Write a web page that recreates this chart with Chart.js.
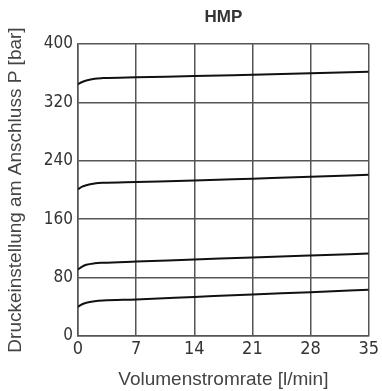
<!DOCTYPE html>
<html>
<head>
<meta charset="utf-8">
<script src="https://cdn.jsdelivr.net/npm/chart.js@4.4.1/dist/chart.umd.min.js"></script>
<style>
    html, body { margin: 0; padding: 0; background: #fff; }
    #wrap { width: 382px; height: 391px; }
</style>
</head>
<body>
<div id="wrap"><canvas id="hmpChart"></canvas></div>
<script>
// Flow rate sample points (l/min)
const flowRates = [0, 0.5, 1, 2, 3, 7, 14, 21, 28, 35];

// Pressure setting curves (bar), one per relief setting
const curve350 = [345, 348, 350, 352.5, 353.3, 354.5, 356, 358, 360, 362];
const curve200 = [201, 204.5, 206.5, 208.8, 209.8, 211, 213, 215.5, 218, 221];
const curve90 = [91, 95, 97.5, 99.5, 100.3, 102, 104.8, 107.7, 110.4, 113];
const curve40 = [40, 43.5, 45.5, 47.5, 48.5, 50, 53.5, 57, 60, 63.5];

const xTicks = [0, 7, 14, 21, 28, 35];
const yTicks = [0, 80, 160, 240, 320, 400];

const chartTitle = 'HMP';

const narrowFamily = "'Liberation Sans Narrow', 'DejaVu Sans Condensed', sans-serif";
const labelFont = { family: "'Liberation Sans', Arial, sans-serif", size: 19 };

function toPoints(values) {
    return values.map((v, i) => ({ x: flowRates[i], y: v }));
}

function lineDataset(values) {
    return {
        data: toPoints(values),
        borderColor: '#111',
        borderWidth: 2,
        pointRadius: 0,
        fill: false,
        cubicInterpolationMode: 'monotone'
    };
}

// Heading centred over the plot area rather than the whole canvas
const plotTitle = {
    id: 'plotTitle',
    afterDraw(chart) {
        const { ctx, chartArea } = chart;
        ctx.save();
        ctx.font = "bold 17px 'Liberation Sans', Arial, sans-serif";
        ctx.fillStyle = '#333';
        ctx.textAlign = 'center';
        ctx.textBaseline = 'middle';
        ctx.fillText(chartTitle, (chartArea.left + chartArea.right) / 2, 17);
        ctx.restore();
    }
};

const ctx = document.getElementById('hmpChart').getContext('2d');
new Chart(ctx, {
    type: 'line',
    data: {
        datasets: [
            lineDataset(curve350),
            lineDataset(curve200),
            lineDataset(curve90),
            lineDataset(curve40)
        ]
    },
    plugins: [plotTitle],
    options: {
        responsive: true,
        maintainAspectRatio: false,
        animation: false,
        layout: {
            padding: { left: 0, right: 11, top: 44, bottom: 0 }
        },
        plugins: {
            legend: { display: false },
            tooltip: { enabled: false },
            title: { display: false }
        },
        scales: {
            x: {
                type: 'linear',
                min: 0,
                max: 35,
                afterBuildTicks: (scale) => {
                    scale.ticks = xTicks.map(v => ({ value: v }));
                },
                afterFit: (scale) => { scale.height = 55; },
                grid: { color: '#555', lineWidth: 1.5, drawTicks: false },
                border: { color: '#555', width: 1.5 },
                ticks: { color: '#333', font: { family: narrowFamily, size: 18 }, padding: 3, maxRotation: 0 },
                title: {
                    display: true,
                    text: 'Volumenstromrate [l/min]',
                    color: '#444',
                    font: labelFont,
                    padding: { top: 4, bottom: 0 }
                }
            },
            y: {
                type: 'linear',
                min: 0,
                max: 400,
                afterBuildTicks: (scale) => {
                    scale.ticks = yTicks.map(v => ({ value: v }));
                },
                afterFit: (scale) => { scale.width = 78; },
                grid: { color: '#555', lineWidth: 1.5, drawTicks: false },
                border: { color: '#555', width: 1.5 },
                ticks: { color: '#333', font: { family: narrowFamily, size: 17 }, padding: 5 },
                title: {
                    display: true,
                    text: 'Druckeinstellung am Anschluss P [bar]',
                    color: '#444',
                    font: labelFont,
                    padding: { top: 4, bottom: 0 }
                }
            }
        }
    }
});
</script>
</body>
</html>
